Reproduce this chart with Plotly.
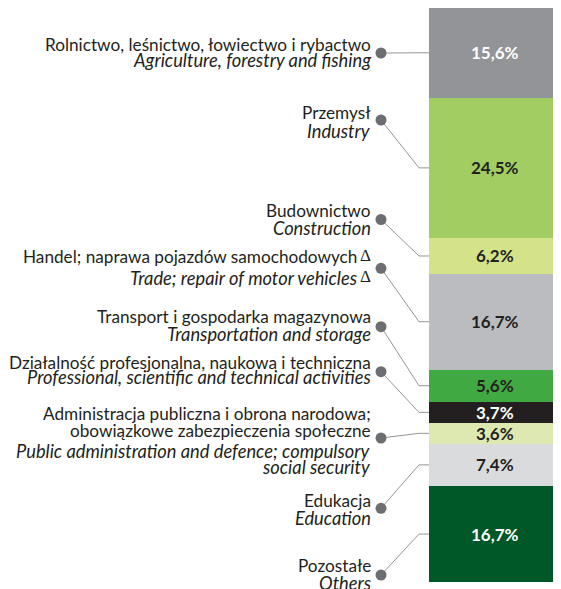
import numpy as np
import plotly.graph_objects as go

# ---------------- data ----------------
sectors_pl = [
    "Rolnictwo, leśnictwo, łowiectwo i rybactwo",
    "Przemysł",
    "Budownictwo",
    "Handel; naprawa pojazdów samochodowych",
    "Transport i gospodarka magazynowa",
    "Działalność profesjonalna, naukowa i techniczna",
    "Administracja publiczna i obrona narodowa;|obowiązkowe zabezpieczenia społeczne",
    "Edukacja",
    "Pozostałe",
]
sectors_en = [
    "Agriculture, forestry and fishing",
    "Industry",
    "Construction",
    "Trade; repair of motor vehicles",
    "Transportation and storage",
    "Professional, scientific and technical activities",
    "Public administration and defence; compulsory|social security",
    "Education",
    "Others",
]
shares = [15.6, 24.5, 6.2, 16.7, 5.6, 3.7, 3.6, 7.4, 16.7]
delta_mark = [False, False, False, True, False, False, False, False, False]

# ---------------- styles / layout ----------------
seg_colors = ["#929497", "#a2cd62", "#d4e28a", "#bbbcc0", "#41a942",
              "#231f20", "#dde9b0", "#dadbdd", "#005828"]
val_colors = ["#ffffff", "#231f20", "#231f20", "#231f20", "#231f20",
              "#ffffff", "#231f20", "#231f20", "#ffffff"]
TXT = "#231f20"
DOT = "#6d6e71"
LINE = "#939598"
FONT = "Lato"
FS_PL = 17.2
FS_EN = 18.3
FS_VAL = 17

# page coordinates (the page body adds an 8px offset)
OFF = 8
W, H = 553 - OFF, 589 - OFF
BAR_TOP, BAR_BOTTOM = 8, 582
BAR_LEFT, BAR_RIGHT = 429, 561
TEXT_RIGHT = 373
DOT_X = 381
ELBOW_X = 419

# baselines of label lines (px) and dot y (px), page coordinates
line_baselines = [
    [50.5, 66.5],
    [118.5, 138],
    [216.7, 234.3],
    [263.3, 284.3],
    [323.3, 340.7],
    [369, 384],
    [419.5, 436.5, 457.5, 473.5],
    [506.7, 524.3],
    [571.7, 589.5],
]
dot_y_px = [53, 120, 219.5, 268.3, 326.7, 371.7, 438, 508.3, 575]

total = sum(shares)
PX_PER = (BAR_BOTTOM - BAR_TOP) / total


def px2v(py):
    return (py - BAR_TOP) / PX_PER


fig = go.Figure()

# stacked bar
for i, v in enumerate(shares):
    fig.add_trace(go.Bar(
        x=[(BAR_LEFT + BAR_RIGHT) / 2], y=[v], width=[BAR_RIGHT - BAR_LEFT],
        marker=dict(color=seg_colors[i], line=dict(width=0)),
        textposition="none",
        hoverinfo="skip", showlegend=False,
    ))

# connector lines
cum = np.cumsum([0] + shares)
centers = (cum[:-1] + cum[1:]) / 2
for i in range(len(shares)):
    fig.add_trace(go.Scatter(
        x=[DOT_X, ELBOW_X, BAR_LEFT],
        y=[px2v(dot_y_px[i]), centers[i], centers[i]],
        mode="lines", line=dict(color=LINE, width=1),
        hoverinfo="skip", showlegend=False, cliponaxis=False,
    ))

# dots
fig.add_trace(go.Scatter(
    x=[DOT_X] * len(shares), y=[px2v(p) for p in dot_y_px],
    mode="markers", marker=dict(size=11, color=DOT),
    hoverinfo="skip", showlegend=False, cliponaxis=False,
))

annotations = []

# value labels at segment centres
for i, v in enumerate(shares):
    annotations.append(dict(
        x=(BAR_LEFT + BAR_RIGHT) / 2, y=centers[i], xref="x", yref="y",
        text="<b>" + f"{v:.1f}".replace(".", ",") + "%</b>", showarrow=False,
        xanchor="center", yanchor="middle",
        font=dict(family=FONT, size=FS_VAL, color=val_colors[i]),
    ))

# category labels
for i in range(len(shares)):
    lines = [(t, False) for t in sectors_pl[i].split("|")] + \
            [(t, True) for t in sectors_en[i].split("|")]
    for (t, it), base in zip(lines, line_baselines[i]):
        fs = FS_EN if it else FS_PL
        xr = TEXT_RIGHT - (14 if delta_mark[i] else 0)
        annotations.append(dict(
            x=xr, y=px2v(base - 0.37 * fs), xref="x", yref="y",
            text=f"<i>{t}</i>" if it else t, showarrow=False,
            xanchor="right", yanchor="middle", align="right",
            font=dict(family=FONT, size=fs, color=TXT),
        ))
        if delta_mark[i]:
            annotations.append(dict(
                x=TEXT_RIGHT, y=px2v(base - 0.37 * fs - 1.5), xref="x", yref="y",
                text="Δ", showarrow=False, xanchor="right", yanchor="middle",
                font=dict(family="Liberation Serif", size=17, color=TXT),
            ))

fig.update_layout(
    width=W, height=H, margin=dict(l=0, r=0, t=0, b=0),
    paper_bgcolor="white", plot_bgcolor="white",
    barmode="stack", bargap=0,
    xaxis=dict(range=[OFF, OFF + W], visible=False, fixedrange=True),
    yaxis=dict(range=[px2v(OFF + H), px2v(OFF)], visible=False, fixedrange=True),
    annotations=annotations,
    font=dict(family=FONT, color=TXT),
)

fig.write_html("out.html")
